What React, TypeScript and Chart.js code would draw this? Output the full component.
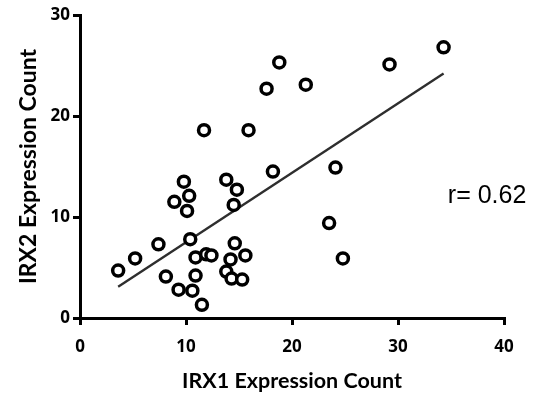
import React, { useEffect, useRef } from "react";
import { Chart, registerables } from "chart.js";

Chart.register(...registerables);

const irx1: number[] = [
  3.6, 5.2, 7.4, 8.1, 9.3, 8.9, 9.8, 10.3, 10.1, 10.4, 10.9, 10.9, 10.6, 11.5,
  11.9, 12.4, 13.8, 14.8, 14.5, 14.6, 14.2, 13.8, 14.3, 15.3, 15.6, 18.2, 11.7,
  15.9, 17.6, 18.8, 21.3, 29.2, 34.3, 24.1, 23.5, 24.8,
];
const irx2: number[] = [
  4.7, 5.9, 7.3, 4.1, 2.8, 11.5, 13.5, 12.1, 10.6, 7.8, 6.0, 4.2, 2.7, 1.3,
  6.3, 6.2, 13.7, 12.7, 11.2, 7.4, 5.8, 4.6, 3.9, 3.8, 6.2, 14.5, 18.6, 18.6,
  22.7, 25.3, 23.1, 25.1, 26.8, 14.9, 9.4, 5.9,
];
const fitX: number[] = [3.6, 34.3];
const fitY: number[] = [3.1, 24.2];
const xTicks: number[] = [0, 10, 20, 30, 40];
const yTicks: number[] = [0, 10, 20, 30];
const xTitle = "IRX1 Expression Count";
const yTitle = "IRX2 Expression Count";
const rLabel = "r= 0.62";
const rPos = { x: 34.7, y: 12.1 };

export default function App() {
  const ref = useRef<HTMLCanvasElement | null>(null);
  useEffect(() => {
    document.body.style.margin = "0";
    const canvas = ref.current;
    if (!canvas) return;
    const tickFont = { family: "'Open Sans'", size: 17, weight: "bold" as const };
    const xTitleFont = { family: "Lato", size: 21.5, weight: "bold" as const };
    const yTitleFont = { family: "Lato", size: 23, weight: "bold" as const };
    const annot = {
      id: "rAnnot",
      afterDraw(chart: any) {
        const ctx = chart.ctx;
        const xs = chart.scales.x;
        const ys = chart.scales.y;
        ctx.save();
        ctx.font = "25px 'Liberation Sans', Arial, sans-serif";
        ctx.fillStyle = "#000";
        ctx.textAlign = "left";
        ctx.textBaseline = "middle";
        ctx.fillText(rLabel, xs.getPixelForValue(rPos.x), ys.getPixelForValue(rPos.y));
        ctx.restore();
      },
    };
    const chart = new Chart(canvas, {
      type: "scatter",
      data: {
        datasets: [
          {
            type: "scatter",
            data: irx1.map((x, i) => ({ x, y: irx2[i] })),
            pointRadius: 5.5,
            pointBorderWidth: 3.5,
            pointBorderColor: "#000",
            pointBackgroundColor: "#fff",
            pointHoverRadius: 5.5,
          },
          {
            type: "line",
            data: fitX.map((x, i) => ({ x, y: fitY[i] })),
            borderColor: "#2e2e2e",
            borderWidth: 2.4,
            pointRadius: 0,
            fill: false,
          },
        ],
      },
      options: {
        responsive: false,
        animation: false,
        events: [],
        layout: { padding: { left: 0, right: 42, top: 15, bottom: 0 } },
        plugins: { legend: { display: false }, tooltip: { enabled: false } },
        scales: {
          x: {
            type: "linear",
            min: 0,
            max: 40,
            afterBuildTicks: (s: any) => {
              s.ticks = xTicks.map((v) => ({ value: v }));
            },
            afterFit: (s: any) => {
              s.height = 77;
            },
            grid: {
              drawOnChartArea: false,
              drawTicks: true,
              tickLength: 7,
              lineWidth: 3,
              color: "#000",
            },
            border: { display: true, width: 3, color: "#000" },
            ticks: { font: tickFont, color: "#000", padding: 12, maxRotation: 0 },
            title: {
              display: true,
              text: xTitle,
              font: xTitleFont,
              color: "#000",
              padding: { top: 0, bottom: 1 },
            },
          },
          y: {
            type: "linear",
            min: 0,
            max: 30,
            afterBuildTicks: (s: any) => {
              s.ticks = yTicks.map((v) => ({ value: v }));
            },
            afterFit: (s: any) => {
              s.width = 80;
            },
            grid: {
              drawOnChartArea: false,
              drawTicks: true,
              tickLength: 7,
              lineWidth: 3,
              color: "#000",
            },
            border: { display: true, width: 3, color: "#000" },
            ticks: { font: tickFont, color: "#000", padding: 3 },
            title: {
              display: true,
              text: yTitle,
              font: yTitleFont,
              color: "#000",
              padding: { top: 15, bottom: 0 },
            },
          },
        },
      },
      plugins: [annot],
    });
    return () => chart.destroy();
  }, []);
  return (
    <div style={{ position: "fixed", left: 0, top: 0, width: 546, height: 395, background: "#fff" }}>
      <canvas ref={ref} width={546} height={395} style={{ width: 546, height: 395 }} />
    </div>
  );
}
